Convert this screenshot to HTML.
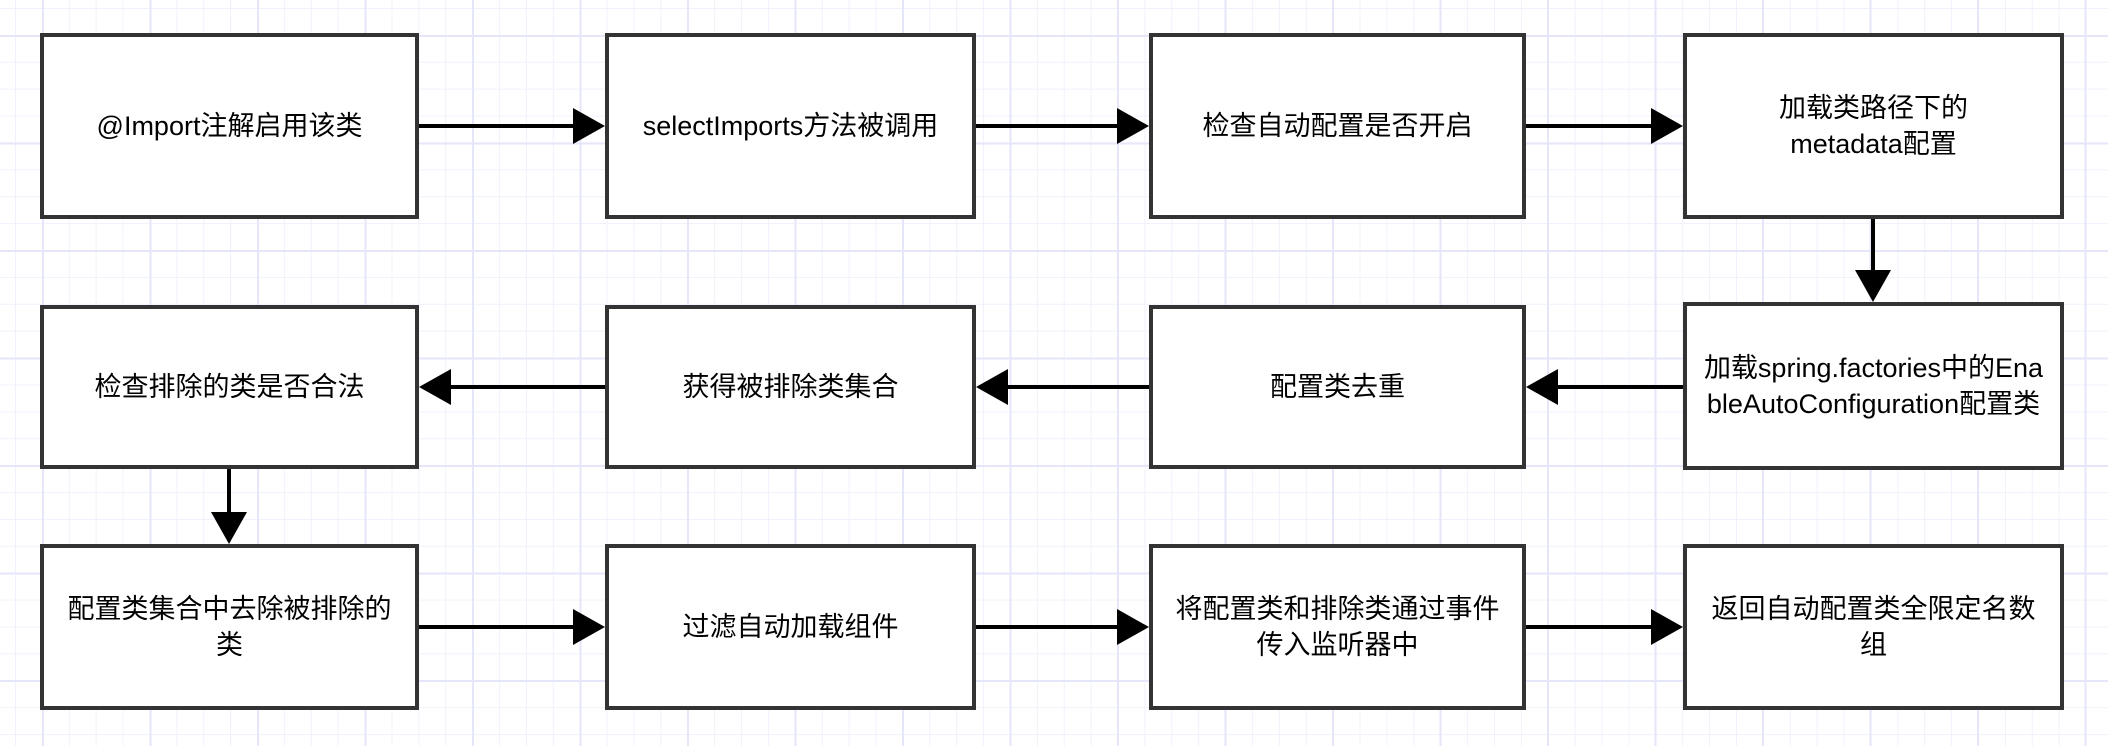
<!DOCTYPE html>
<html><head><meta charset="utf-8"><style>
html,body{margin:0;padding:0}
body{width:2108px;height:746px;position:relative;overflow:hidden;background-color:#fff;
background-image:
linear-gradient(to right,#e6e6fa 2px,transparent 2px),
linear-gradient(to bottom,#e6e6fa 2px,transparent 2px),
linear-gradient(to right,#f1f1fc 1px,transparent 1px),
linear-gradient(to bottom,#f1f1fc 1px,transparent 1px);
background-size:107.5px 107.5px,107.5px 107.5px,26.9px 26.9px,26.9px 26.9px;
background-position:42px 0,0 35px,15px 0,0 8px;}
.b{position:absolute;box-sizing:border-box;border:4px solid #333;background:#fff;display:flex;align-items:center;justify-content:center;text-align:center;
font-family:"Liberation Sans","Noto Sans CJK SC",sans-serif;font-size:27px;line-height:36px;color:#000;padding:0 18px;word-break:break-all}
svg{position:absolute;left:0;top:0}
</style></head><body>
<svg width="2108" height="746">
<g stroke="#000" stroke-width="4" fill="none">
<line x1="419" y1="126" x2="578" y2="126"/>
<line x1="976" y1="126" x2="1122" y2="126"/>
<line x1="1526" y1="126" x2="1656" y2="126"/>
<line x1="1873" y1="219" x2="1873" y2="276"/>
<line x1="1683" y1="387" x2="1557" y2="387"/>
<line x1="1149" y1="387" x2="1007" y2="387"/>
<line x1="605" y1="387" x2="450" y2="387"/>
<line x1="229" y1="468" x2="229" y2="516"/>
<line x1="419" y1="627" x2="578" y2="627"/>
<line x1="976" y1="627" x2="1122" y2="627"/>
<line x1="1526" y1="627" x2="1656" y2="627"/>
</g>
<g fill="#000">
<polygon points="605,126 573,108 573,144"/>
<polygon points="1149,126 1117,108 1117,144"/>
<polygon points="1683,126 1651,108 1651,144"/>
<polygon points="1873,302 1855,270 1891,270"/>
<polygon points="1526,387 1558,369 1558,405"/>
<polygon points="976,387 1008,369 1008,405"/>
<polygon points="419,387 451,369 451,405"/>
<polygon points="229,544 211,512 247,512"/>
<polygon points="605,627 573,609 573,645"/>
<polygon points="1149,627 1117,609 1117,645"/>
<polygon points="1683,627 1651,609 1651,645"/>
</g>
</svg>
<div class="b" style="left:40px;top:33px;width:379px;height:186px">@Import注解启用该类</div>
<div class="b" style="left:605px;top:33px;width:371px;height:186px">selectImports方法被调用</div>
<div class="b" style="left:1149px;top:33px;width:377px;height:186px">检查自动配置是否开启</div>
<div class="b" style="left:1683px;top:33px;width:381px;height:186px">加载类路径下的<br>metadata配置</div>
<div class="b" style="left:40px;top:305px;width:379px;height:164px">检查排除的类是否合法</div>
<div class="b" style="left:605px;top:305px;width:371px;height:164px">获得被排除类集合</div>
<div class="b" style="left:1149px;top:305px;width:377px;height:164px">配置类去重</div>
<div class="b" style="left:1683px;top:302px;width:381px;height:168px;padding:0 10px">加载spring.factories中的EnableAutoConfiguration配置类</div>
<div class="b" style="left:40px;top:544px;width:379px;height:166px">配置类集合中去除被排除的类</div>
<div class="b" style="left:605px;top:544px;width:371px;height:166px">过滤自动加载组件</div>
<div class="b" style="left:1149px;top:544px;width:377px;height:166px">将配置类和排除类通过事件传入监听器中</div>
<div class="b" style="left:1683px;top:544px;width:381px;height:166px">返回自动配置类全限定名数组</div>
</body></html>
